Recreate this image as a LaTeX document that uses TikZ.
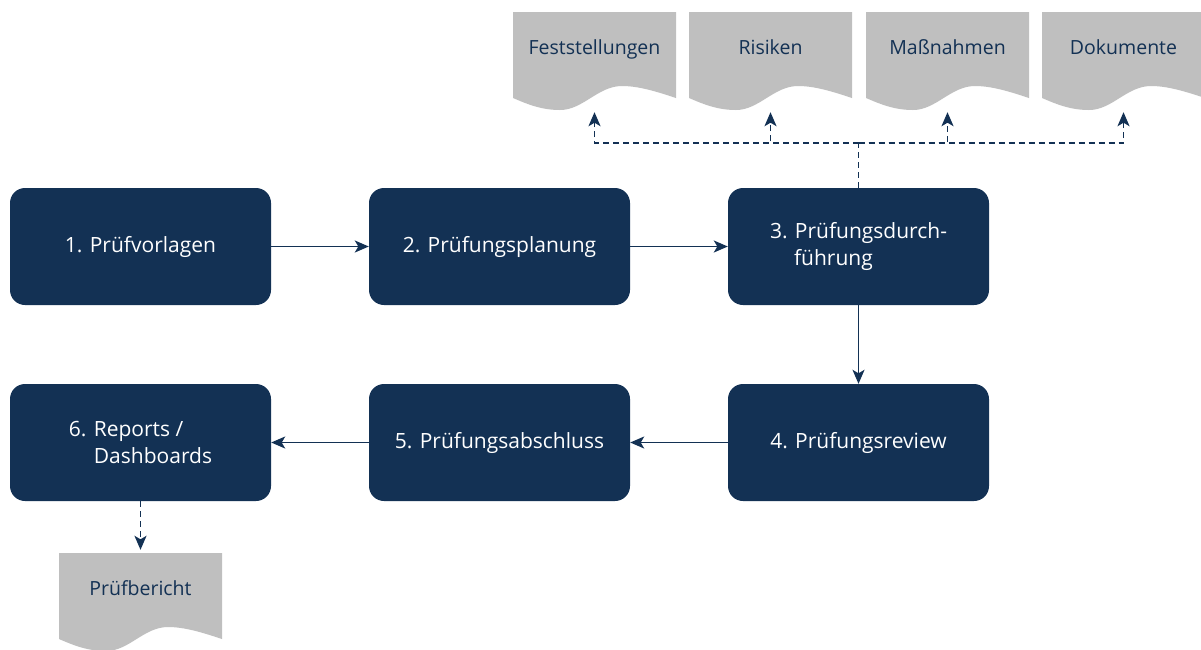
\documentclass[tikz,border=0pt]{standalone}
\usepackage{fontspec}
\setmainfont{Open Sans}
\usetikzlibrary{arrows.meta,calc}
\definecolor{navy}{RGB}{19,49,84}
\definecolor{docgray}{RGB}{191,191,191}
\newcommand{\dpt}[2]{([xshift=#1pt,yshift=-#2pt]path picture bounding box.north west)}
\begin{document}
\begin{tikzpicture}[x=1pt,y=-1pt,
  stepbox/.style={fill=navy, rounded corners=15pt, minimum width=261pt, minimum height=117pt,
    text=white, font=\fontsize{21}{27}\selectfont, align=left, inner sep=0pt},
  docnode/.style={minimum width=163pt, inner sep=0pt, text height=42pt, text depth=56pt,
    text=navy, font=\fontsize{19.5}{24}\selectfont, fill=white,
    path picture={\fill[docgray] \dpt{0}{0} -- \dpt{163}{0} -- \dpt{163}{86}
      .. controls \dpt{142}{79} and \dpt{125}{74} .. \dpt{109}{74}
      .. controls \dpt{85}{74} and \dpt{70}{98} .. \dpt{47}{98}
      .. controls \dpt{28}{98} and \dpt{14}{92} .. \dpt{0}{86} -- cycle;}},
  flowline/.style={draw=navy, line width=1.8pt},
  flow/.style={flowline, -{Stealth[length=14pt,width=12pt,inset=3.5pt]}},
  dflow/.style={flow, dash pattern=on 6pt off 4pt},
]
\useasboundingbox (0,0) rectangle (1201,649);
\node[stepbox] (b1) at (140.5,246.5) {1. Prüfvorlagen};
\node[stepbox] (b2) at (499.5,246.5) {2. Prüfungsplanung};
\node[stepbox] (b3) at (858.5,246.5) {3. Prüfungsdurch-\\\hspace*{24pt}führung};
\node[stepbox] (b4) at (858.5,442.5) {4. Prüfungsreview};
\node[stepbox] (b5) at (499.5,442.5) {5. Prüfungsabschluss};
\node[stepbox] (b6) at (140.5,442.5) {6. Reports /\\\hspace*{25pt}Dashboards};

\node[docnode] (fest) at (594.5,61) {Feststellungen};
\node[docnode] (ris) at (770.5,61) {Risiken};
\node[docnode] (mass) at (947.5,61) {Maßnahmen};
\node[docnode] (dok) at (1123.5,61) {Dokumente};
\node[docnode] (pb) at (140.5,602) {Prüfbericht};

\draw[flow] (b1) -- (b2);
\draw[flow] (b2) -- (b3);
\draw[flow] (b3) -- (b4);
\draw[flow] (b4) -- (b5);
\draw[flow] (b5) -- (b6);
\draw[dflow, shorten >=3pt] (b6) -- (pb);

\coordinate (bus) at (858.5,143);
\draw[flowline, dash pattern=on 6pt off 4pt] (b3.north) -- (bus);
\foreach \d in {fest,ris,mass,dok}
  \draw[dflow, shorten >=2pt] (bus) -| (\d.south);
\end{tikzpicture}
\end{document}
